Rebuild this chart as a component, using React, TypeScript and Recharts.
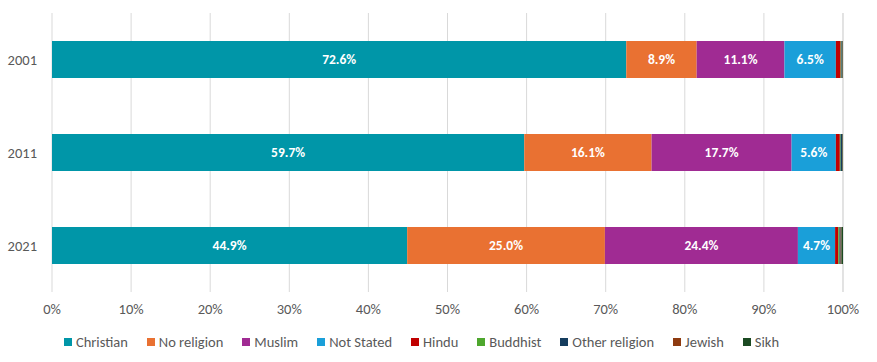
import React from "react";
import {
  BarChart,
  Bar,
  XAxis,
  YAxis,
  CartesianGrid,
  Legend,
  LabelList,
} from "recharts";

const YEARS = ["2001", "2011", "2021"];

const CHRISTIAN = [72.6, 59.7, 44.9];
const NO_RELIGION = [8.9, 16.1, 25.0];
const MUSLIM = [11.1, 17.7, 24.4];
const NOT_STATED = [6.5, 5.6, 4.7];
const HINDU = [0.6, 0.5, 0.4];
const BUDDHIST = [0.1, 0.1, 0.15];
const OTHER_RELIGION = [0.1, 0.2, 0.15];
const JEWISH = [0.05, 0.05, 0.1];
const SIKH = [0.05, 0.05, 0.2];

const X_TICKS = [0, 10, 20, 30, 40, 50, 60, 70, 80, 90, 100];

const SERIES = [
  { key: "Christian", values: CHRISTIAN, color: "#0096A8", label: true },
  { key: "No religion", values: NO_RELIGION, color: "#E97132", label: true },
  { key: "Muslim", values: MUSLIM, color: "#A02B93", label: true },
  { key: "Not Stated", values: NOT_STATED, color: "#1A9FD9", label: true },
  { key: "Hindu", values: HINDU, color: "#C00000", label: false },
  { key: "Buddhist", values: BUDDHIST, color: "#4EA72E", label: false },
  { key: "Other religion", values: OTHER_RELIGION, color: "#153D5E", label: false },
  { key: "Jewish", values: JEWISH, color: "#8E3B10", label: false },
  { key: "Sikh", values: SIKH, color: "#1B4A22", label: false },
];

const data = YEARS.map((year, i) => {
  const row: Record<string, string | number> = { year };
  SERIES.forEach((s) => {
    row[s.key] = s.values[i];
  });
  return row;
});

const FONT = "Calibri, Carlito, Lato, sans-serif";

const renderLegend = () => (
  <div
    style={{
      display: "flex",
      justifyContent: "center",
      alignItems: "center",
      height: 32,
      gap: 19,
      fontFamily: FONT,
      fontSize: 14.5,
      color: "#595959",
    }}
  >
    {SERIES.map((s) => (
      <div key={s.key} style={{ display: "flex", alignItems: "center" }}>
        <span
          style={{
            display: "inline-block",
            width: 8,
            height: 8,
            background: s.color,
            marginRight: 4,
          }}
        />
        <span>{s.key}</span>
      </div>
    ))}
  </div>
);

const App: React.FC = () => {
  return (
    <div style={{ position: "absolute", left: 0, top: 0, background: "#fff" }}>
      <BarChart
        width={877}
        height={362}
        data={data}
        layout="vertical"
        margin={{ top: 13, right: 34, bottom: 4, left: 0 }}
        barSize={37}
      >
        <CartesianGrid horizontal={false} stroke="#d9d9d9" />
        <XAxis
          type="number"
          domain={[0, 100]}
          ticks={X_TICKS}
          tickFormatter={(v: number) => `${v}%`}
          axisLine={false}
          tickLine={false}
          tickSize={0}
          tickMargin={12}
          height={34}
          interval={0}
          tick={{ fill: "#595959", fontSize: 14.5, fontFamily: FONT }}
        />
        <YAxis
          type="category"
          dataKey="year"
          width={52}
          axisLine={false}
          tickLine={false}
          tickSize={0}
          tickMargin={15}
          tick={{ fill: "#595959", fontSize: 14.5, fontFamily: FONT }}
        />
        <Legend verticalAlign="bottom" height={32} content={renderLegend} />
        {SERIES.map((s) => (
          <Bar
            key={s.key}
            dataKey={s.key}
            stackId="a"
            fill={s.color}
            isAnimationActive={false}
          >
            {s.label && (
              <LabelList
                dataKey={s.key}
                position="center"
                formatter={(v: number) => `${v.toFixed(1)}%`}
                fill="#ffffff"
                fontSize={13.5}
                fontWeight="bold"
                fontFamily={FONT}
              />
            )}
          </Bar>
        ))}
      </BarChart>
    </div>
  );
};

export default App;
